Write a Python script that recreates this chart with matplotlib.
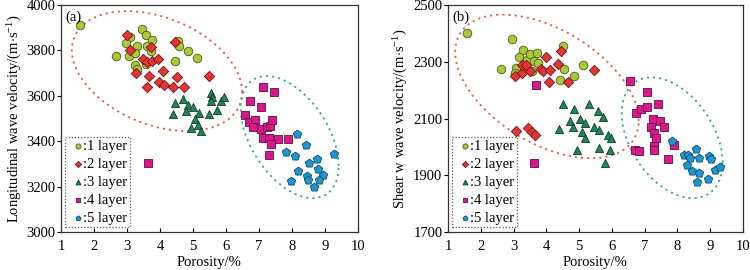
import numpy as np
import matplotlib
matplotlib.use("Agg")
import matplotlib.pyplot as plt

plt.rcParams['font.family'] = ['Liberation Serif', 'DejaVu Serif']
plt.rcParams['mathtext.fontset'] = 'custom'
plt.rcParams['mathtext.rm'] = 'Liberation Serif'
plt.rcParams['mathtext.it'] = 'Liberation Serif:italic'

# ---------------- data: panel (a) porosity vs longitudinal wave velocity
a1_x = [1.58, 2.67, 3.10, 2.96, 3.31, 3.06, 3.23, 3.47, 3.57, 3.61, 3.75, 3.72, 3.24, 3.30, 3.57, 4.54, 4.57, 4.45, 4.84, 5.13]
a1_y = [3910, 3775, 3858, 3834, 3819, 3775, 3787, 3896, 3866, 3819, 3846, 3796, 3737, 3717, 3740, 3843, 3819, 3752, 3796, 3767]
a2_x = [2.99, 3.10, 3.28, 3.48, 3.61, 3.77, 3.93, 4.08, 3.66, 3.61, 3.98, 4.13, 4.38, 4.51, 4.72, 5.48, 4.46, 3.73]
a2_y = [3866, 3804, 3699, 3762, 3750, 3752, 3761, 3711, 3687, 3637, 3663, 3649, 3639, 3681, 3637, 3687, 3836, 3817]
a3_x = [4.45, 4.71, 4.85, 4.79, 5.01, 5.19, 4.40, 5.07, 5.15, 4.95, 5.23, 5.49, 5.72, 5.55, 5.58, 5.56, 5.86, 5.93]
a3_y = [3567, 3587, 3558, 3534, 3549, 3523, 3520, 3496, 3470, 3458, 3446, 3520, 3537, 3612, 3596, 3576, 3576, 3596]
a4_x = [7.13, 7.46, 6.74, 7.05, 6.57, 6.71, 6.87, 6.81, 7.07, 7.23, 7.33, 7.39, 7.13, 7.29, 7.58, 7.88, 7.37, 7.29, 3.65]
a4_y = [3637, 3617, 3576, 3552, 3517, 3485, 3493, 3464, 3455, 3464, 3467, 3493, 3414, 3414, 3411, 3411, 3388, 3341, 3302]
a5_x = [8.16, 8.44, 7.82, 8.08, 9.27, 8.51, 8.77, 8.79, 8.18, 8.95, 8.46, 8.48, 8.83, 7.98, 8.67]
a5_y = [3432, 3385, 3352, 3335, 3344, 3305, 3323, 3279, 3267, 3252, 3247, 3229, 3229, 3226, 3200]

# ---------------- data: panel (b) porosity vs shear wave velocity
b1_x = [1.57, 2.95, 2.63, 3.30, 3.17, 3.42, 3.50, 3.72, 3.62, 3.74, 3.28, 3.07, 3.05, 3.55, 4.50, 4.55, 4.43, 4.83, 5.12]
b1_y = [2402, 2379, 2273, 2341, 2318, 2306, 2327, 2330, 2304, 2297, 2276, 2278, 2261, 2268, 2357, 2276, 2236, 2250, 2287]
b2_x = [3.05, 3.27, 3.25, 3.50, 3.83, 3.99, 3.89, 4.12, 4.07, 4.37, 4.46, 4.66, 5.46, 3.38, 3.09, 3.45, 3.55, 3.64]
b2_y = [2250, 2261, 2287, 2268, 2276, 2318, 2268, 2271, 2230, 2293, 2339, 2228, 2271, 2290, 2057, 2066, 2052, 2043]
b3_x = [4.50, 4.86, 5.29, 5.57, 5.72, 4.72, 5.02, 5.19, 4.82, 4.39, 5.09, 5.47, 5.61, 5.19, 5.88, 5.98, 4.94, 5.61, 5.94, 5.80]
b3_y = [2151, 2132, 2151, 2126, 2104, 2092, 2097, 2083, 2071, 2062, 2052, 2069, 2060, 2033, 2043, 2030, 1989, 1996, 1988, 1944]
b4_x = [6.55, 7.08, 7.42, 6.73, 6.89, 7.06, 7.26, 7.48, 7.59, 7.18, 7.30, 7.36, 7.91, 6.72, 6.84, 7.29, 7.29, 7.71, 3.63, 3.68]
b4_y = [2233, 2193, 2151, 2120, 2132, 2142, 2097, 2092, 2071, 2069, 2050, 2031, 2006, 1990, 1986, 2004, 1988, 1959, 1943, 2219]
b5_x = [7.83, 8.58, 8.20, 8.33, 8.37, 8.66, 8.28, 8.95, 9.04, 8.44, 8.65, 9.15, 9.31, 8.93, 8.60]
b5_y = [2019, 1992, 1970, 1972, 1960, 1961, 1936, 1968, 1957, 1916, 1908, 1918, 1928, 1888, 1877]

layer_labels = [':1 layer', ':2 layer', ':3 layer', ':4 layer', ':5 layer']

# styles
markers = ['o', 'D', '^', 's', 'p']
face = ['#a9c83d', '#e03636', '#23845a', '#d8198c', '#1f96d0']
edge = ['#4a5a10', '#7a1010', '#0f3d28', '#6a0a40', '#0a4a6a']
sizes = [38, 28, 34, 28, 40]

# ellipse annotation params: (cx, cy, x half-extent, y half-extent, correlation)
ell_a = [(3.91, 3709, 2.58, 264, -0.35, '#e0604e'), (7.93, 3418, 1.485, 269, -0.47, '#3aa88e')]
ell_b = [(4.02, 2213, 2.80, 253, -0.48, '#e0604e'), (7.84, 2032, 1.54, 213, -0.41, '#3aa88e')]

fig = plt.figure(figsize=(7.5, 2.7), dpi=100)
axA = fig.add_axes([0.0813, 0.1407, 0.396, 0.8407])
axB = fig.add_axes([0.5973, 0.1407, 0.3933, 0.8407])


def draw_ellipse(ax, cx, cy, xh, yh, r, color):
    t = np.linspace(0, 2 * np.pi, 400)
    phi = np.arccos(r)
    x = cx + xh * np.cos(t)
    y = cy + yh * np.cos(t - phi)
    ax.plot(x, y, linestyle=(0, (1.2, 2.2)), color=color, lw=1.3, zorder=1)


def panel(ax, xs, ys, ells, ylim, yticks, ylabel, tag):
    for e in ells:
        draw_ellipse(ax, *e)
    handles = []
    for i in range(5):
        h = ax.scatter(xs[i], ys[i], marker=markers[i], s=sizes[i], c=face[i],
                       edgecolors=edge[i], linewidths=0.6, zorder=3 + i * 0.1,
                       label=layer_labels[i])
        handles.append(h)
    ax.set_xlim(1, 10)
    ax.set_ylim(*ylim)
    ax.set_xticks(range(1, 11))
    ax.set_yticks(yticks)
    ax.tick_params(axis='y', direction='out', length=3, width=0.8, labelsize=10.5, pad=1)
    ax.tick_params(axis='x', direction='in', length=3, width=0.8, labelsize=10.5, pad=6)
    for s in ax.spines.values():
        s.set_linewidth(0.9)
        s.set_color('#333333')
    ax.set_xlabel('Porosity/%', fontsize=10.5, labelpad=2)
    ax.set_ylabel(ylabel, fontsize=10.5, labelpad=2)
    ax.text(0.015, 0.975, tag, transform=ax.transAxes, fontsize=10.5, va='top', ha='left')
    leg = ax.legend(handles=handles, loc='lower left', bbox_to_anchor=(0.015, 0.02),
                    fontsize=10.5, frameon=True, fancybox=False, borderpad=0.2,
                    handletextpad=-0.3, handlelength=1.3, labelspacing=0.32,
                    borderaxespad=0.0, markerscale=0.6)
    fr = leg.get_frame()
    fr.set_edgecolor('#333333')
    fr.set_linestyle((0, (1, 1.5)))
    fr.set_linewidth(0.9)


panel(axA, [a1_x, a2_x, a3_x, a4_x, a5_x], [a1_y, a2_y, a3_y, a4_y, a5_y], ell_a,
      (3000, 4000), [3000, 3200, 3400, 3600, 3800, 4000],
      r'Longitudinal wave velocity/(m$\cdot$s$^{-1}$)', '(a)')
panel(axB, [b1_x, b2_x, b3_x, b4_x, b5_x], [b1_y, b2_y, b3_y, b4_y, b5_y], ell_b,
      (1700, 2500), [1700, 1900, 2100, 2300, 2500],
      r'Shear w wave velocity/(m$\cdot$s$^{-1}$)', '(b)')

fig.savefig('out.png', dpi=100)
